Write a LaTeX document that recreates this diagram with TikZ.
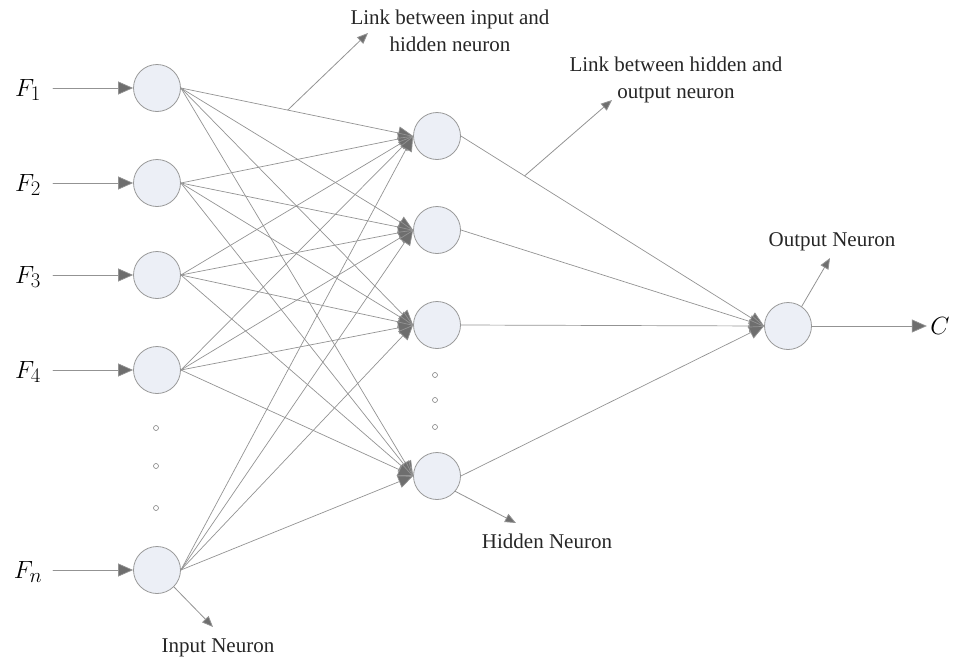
\documentclass[tikz,border=0pt]{standalone}
\usepackage{fontspec}
\setmainfont{Liberation Serif}
\usetikzlibrary{arrows.meta,calc}
\definecolor{linkgray}{HTML}{939393}
\definecolor{tipgray}{HTML}{6E6E6E}
\definecolor{cellfill}{HTML}{ECEFF6}
\tikzset{
  neuron/.style={circle,draw=gray!80,fill=cellfill,line width=0.8pt,minimum size=47pt,inner sep=0pt},
  link/.style={draw=linkgray,line width=0.7pt,-{Triangle[length=15pt,width=13pt,fill=tipgray]}},
  note/.style={draw=linkgray,line width=0.8pt,-{Triangle[length=11pt,width=9pt,fill=tipgray]}},
  gap/.style={circle,draw=gray,line width=0.6pt,minimum size=5pt,inner sep=0pt},
  label/.style={font=\fontsize{21}{27}\selectfont,align=center,text=black!85}
}
\begin{document}
\begin{tikzpicture}[x=1pt,y=-1pt,line join=round,line cap=round]
  \useasboundingbox (0,0) rectangle (956,664);
  % input layer
  \foreach \n/\y/\f in {1/88/F_1,2/183/F_2,3/275/F_3,4/370/F_4,5/570/F_n}{
    \node[neuron] (i\n) at (157,\y) {};
    \node[font=\fontsize{32}{32}\selectfont] (f\n) at (28,\y+2) {$\f$};
    \coordinate (s\n) at (53,\y);
    \draw[link] (s\n) -- (i\n.west);
  }
  \foreach \y in {428,466,508} \node[gap] at (156,\y) {};
  % hidden layer
  \foreach \n/\y in {1/136,2/230,3/325,4/476}
    \node[neuron] (h\n) at (437,\y) {};
  \foreach \y in {375,400,427} \node[gap] at (435,\y) {};
  % output layer
  \node[neuron] (o) at (788,326) {};
  \node[font=\fontsize{36}{36}\selectfont] (c) at (940,326) {$C$};
  % links
  \foreach \a in {1,...,5}
    \foreach \b in {1,...,4}
      \draw[link] (i\a.east) -- (h\b.west);
  \foreach \b in {1,...,4}
    \draw[link] (h\b.east) -- (o.west);
  \draw[link] (o.east) -- (c.west);
  % notes
  \node[label] (n1) at (450,31) {Link between input and\\hidden neuron};
  \coordinate (p1) at ($(i1.east)!0.46!(h1.west)$);
  \coordinate (q1) at (368,33);
  \draw[note] (p1) -- (q1);
  \node[label] (n2) at (676,80) {Link between hidden and\\output neuron};
  \coordinate (p2) at ($(h1.east)!0.21!(o.west)$);
  \coordinate (q2) at (612,100);
  \draw[note] (p2) -- (q2);
  \node[label] (n3) at (832,242) {Output Neuron};
  \coordinate (q3) at (830,258);
  \draw[note] (o.55) -- (q3);
  \node[label] (n4) at (547,541) {Hidden Neuron};
  \coordinate (q4) at (516,523);
  \draw[note] (h4.-40) -- (q4);
  \node[label] (n5) at (218,648) {Input Neuron};
  \coordinate (q5) at (213,627);
  \draw[note] (i5.-45) -- (q5);
\end{tikzpicture}
\end{document}
